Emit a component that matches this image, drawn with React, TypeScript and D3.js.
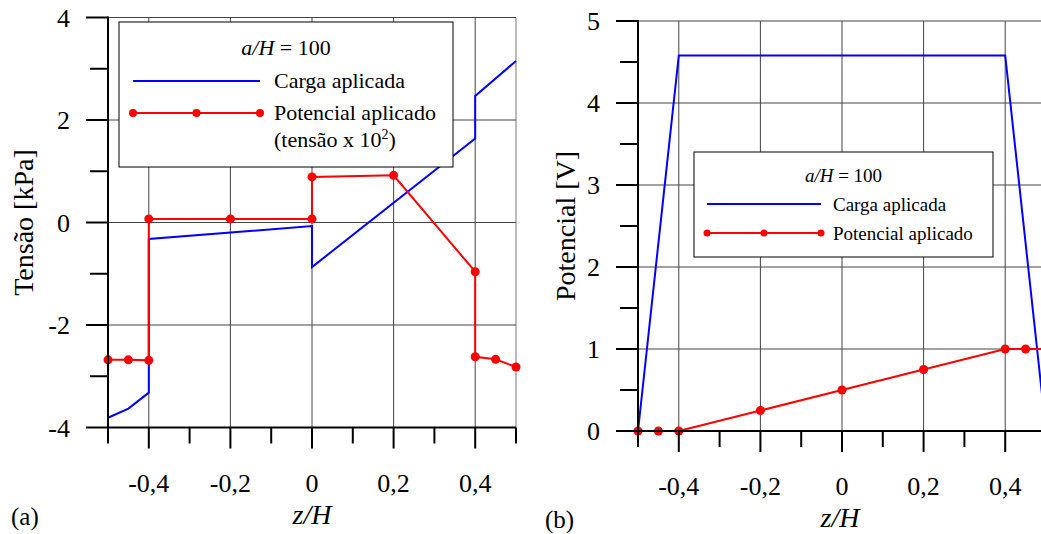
import React from "react";
import * as d3 from "d3";

// ---------- Data ----------
// Panel (a): Tensão [kPa] vs z/H
const aCargaZ = [-0.5, -0.45, -0.4, -0.4, 0, 0, 0.4, 0.4, 0.5];
const aCargaV = [-3.81, -3.63, -3.32, -0.32, -0.07, -0.87, 1.64, 2.47, 3.15];
const aPotZ = [-0.5, -0.45, -0.4, -0.4, -0.2, 0, 0, 0.2, 0.4, 0.4, 0.45, 0.5];
const aPotV = [-2.68, -2.68, -2.69, 0.07, 0.07, 0.07, 0.89, 0.92, -0.96, -2.62, -2.67, -2.82];

// Panel (b): Potencial [V] vs z/H
const bCargaZ = [-0.5, -0.4, 0.4, 0.5];
const bCargaV = [0, 4.58, 4.58, 0];
const bPotZ = [-0.5, -0.45, -0.4, -0.2, 0, 0.2, 0.4, 0.45, 0.5];
const bPotV = [0, 0, 0, 0.25, 0.5, 0.75, 1, 1, 1];

const xTicks = [-0.5, -0.4, -0.3, -0.2, -0.1, 0, 0.1, 0.2, 0.3, 0.4, 0.5];
const xTickLabels = ["-0,4", "-0,2", "0", "0,2", "0,4"];
const xLabelValues = [-0.4, -0.2, 0, 0.2, 0.4];
const aYMajor = [-4, -2, 0, 2, 4];
const aYMinor = [-3, -1, 1, 3];
const bYMajor = [0, 1, 2, 3, 4, 5];
const bYMinor = [0.5, 1.5, 2.5, 3.5, 4.5];

const FONT = "Liberation Serif, Times New Roman, Times, serif";
const BLUE = "#0000ff";
const RED = "#ff0000";
const GRID = "#444";

type PanelProps = {
  x0: number; x1: number; y0: number; y1: number;
  yDomain: [number, number];
  yMajor: number[]; yMinor: number[];
  cz: number[]; cv: number[]; pz: number[]; pv: number[];
  yLabel: string; yLabelX: number; tag: string; tagX: number;
  gridRight: boolean;
};

function Panel(p: PanelProps) {
  const x = d3.scaleLinear().domain([-0.5, 0.5]).range([p.x0, p.x1]);
  const y = d3.scaleLinear().domain(p.yDomain).range([p.y0, p.y1]);
  const line = d3.line<[number, number]>().x(d => x(d[0])).y(d => y(d[1]));
  const carga = p.cz.map((z, i) => [z, p.cv[i]] as [number, number]);
  const pot = p.pz.map((z, i) => [z, p.pv[i]] as [number, number]);
  const isMajorX = (t: number) => Math.abs(Math.round(t * 10)) % 2 === 0 && Math.abs(t) < 0.45;
  const yMid = (p.y0 + p.y1) / 2;
  return (
    <g>
      {/* grid */}
      {xLabelValues.map(t => (
        <line key={"gx" + t} x1={x(t)} x2={x(t)} y1={p.y0} y2={p.y1} stroke={GRID} strokeWidth={1} />
      ))}
      {p.gridRight && <line x1={x(0.5)} x2={x(0.5)} y1={p.y0} y2={p.y1} stroke="#777" strokeWidth={1} />}
      {p.yMajor.filter(v => v !== p.yDomain[0]).map(v => (
        <line key={"gy" + v} x1={p.x0} x2={p.x1} y1={y(v)} y2={y(v)} stroke={GRID} strokeWidth={1} />
      ))}
      {/* data */}
      <path d={line(carga) || ""} fill="none" stroke={BLUE} strokeWidth={2} />
      <path d={line(pot) || ""} fill="none" stroke={RED} strokeWidth={2} />
      {pot.map((d, i) => (
        <circle key={"pm" + i} cx={x(d[0])} cy={y(d[1])} r={4.5} fill={RED} />
      ))}
      {/* axes */}
      <line x1={p.x0} x2={p.x0} y1={p.y0 + 1} y2={p.y1 - 1} stroke="#000" strokeWidth={2} />
      <line x1={p.x0 - 1} x2={p.x1} y1={p.y0} y2={p.y0} stroke="#000" strokeWidth={2} />
      {xTicks.map(t => (
        <line key={"tx" + t} x1={x(t)} x2={x(t)} y1={p.y0} y2={p.y0 + (isMajorX(t) ? 21 : 16)} stroke="#000" strokeWidth={2} />
      ))}
      {p.yMajor.map(v => (
        <line key={"tyM" + v} x1={p.x0 - 22} x2={p.x0} y1={y(v)} y2={y(v)} stroke="#000" strokeWidth={2} />
      ))}
      {p.yMinor.map(v => (
        <line key={"tym" + v} x1={p.x0 - 18} x2={p.x0} y1={y(v)} y2={y(v)} stroke="#000" strokeWidth={2} />
      ))}
      {/* tick labels */}
      {xLabelValues.map((t, i) => (
        <text key={"lx" + t} x={x(t)} y={p.y0 + 64} textAnchor="middle" fontSize={26} fontFamily={FONT}>{xTickLabels[i]}</text>
      ))}
      {p.yMajor.map(v => (
        <text key={"ly" + v} x={p.x0 - 38} y={y(v) + 9} textAnchor="end" fontSize={26} fontFamily={FONT}>{String(v)}</text>
      ))}
      {/* axis titles */}
      <text x={(p.x0 + p.x1) / 2 + (p.gridRight ? 0 : -2)} y={p.y0 + 96} textAnchor="middle" fontSize={28} fontFamily={FONT} fontStyle="italic">z/H</text>
      <text transform={`translate(${p.yLabelX},${yMid}) rotate(-90)`} textAnchor="middle" fontSize={28} fontFamily={FONT}>{p.yLabel}</text>
      <text x={p.tagX} y={p.y0 + 97} fontSize={25} fontFamily={FONT}>{p.tag}</text>
    </g>
  );
}

type LegendProps = {
  x: number; y: number; w: number; h: number; fs: number;
  titleY: number; row1Y: number; row2Y: number; textX: number; lineX0: number; lineX1: number;
  extra?: boolean; r: number;
};

function Legend(l: LegendProps) {
  const mid = (l.lineX0 + l.lineX1) / 2;
  return (
    <g fontFamily={FONT} fontSize={l.fs}>
      <rect x={l.x} y={l.y} width={l.w} height={l.h} fill="#fff" stroke="#000" strokeWidth={1} />
      <text x={l.x + l.w / 2} y={l.titleY} textAnchor="middle">
        <tspan fontStyle="italic">a/H</tspan>
        <tspan> = 100</tspan>
      </text>
      <line x1={l.lineX0} x2={l.lineX1} y1={l.row1Y - 7} y2={l.row1Y - 7} stroke={BLUE} strokeWidth={2} />
      <text x={l.textX} y={l.row1Y}>Carga aplicada</text>
      <line x1={l.lineX0} x2={l.lineX1} y1={l.row2Y - 7} y2={l.row2Y - 7} stroke={RED} strokeWidth={2} />
      {[l.lineX0, mid, l.lineX1].map((cx, i) => (
        <circle key={i} cx={cx} cy={l.row2Y - 7} r={l.r} fill={RED} />
      ))}
      <text x={l.textX} y={l.row2Y}>Potencial aplicado</text>
      {l.extra && (
        <text x={l.textX} y={l.row2Y + 27}>
          (tensão x 10<tspan dy={-8} fontSize={14}>2</tspan><tspan dy={8}>)</tspan>
        </text>
      )}
    </g>
  );
}

export default function App() {
  return (
    <svg width={1041} height={534} style={{ position: "absolute", left: 0, top: 0, background: "#fff" }}>
      <rect x={0} y={0} width={1041} height={534} fill="#fff" />
      <Panel x0={108} x1={516} y0={427.5} y1={17.5} yDomain={[-4, 4]} yMajor={aYMajor} yMinor={aYMinor}
        cz={aCargaZ} cv={aCargaV} pz={aPotZ} pv={aPotV} yLabel="Tensão [kPa]" yLabelX={33} tag="(a)" tagX={11} gridRight={true} />
      <Panel x0={638} x1={1046} y0={431} y1={21} yDomain={[0, 5]} yMajor={bYMajor} yMinor={bYMinor}
        cz={bCargaZ} cv={bCargaV} pz={bPotZ} pv={bPotV} yLabel="Potencial [V]" yLabelX={575} tag="(b)" tagX={545} gridRight={false} />
      <Legend x={119} y={22} w={334} h={145} fs={22} titleY={55} row1Y={88} row2Y={120} textX={274} lineX0={133} lineX1={260} extra={true} r={4} />
      <Legend x={694} y={152} w={299} h={105} fs={19} titleY={182} row1Y={211} row2Y={240} textX={833} lineX0={707} lineX1={821} r={3.5} />
    </svg>
  );
}
